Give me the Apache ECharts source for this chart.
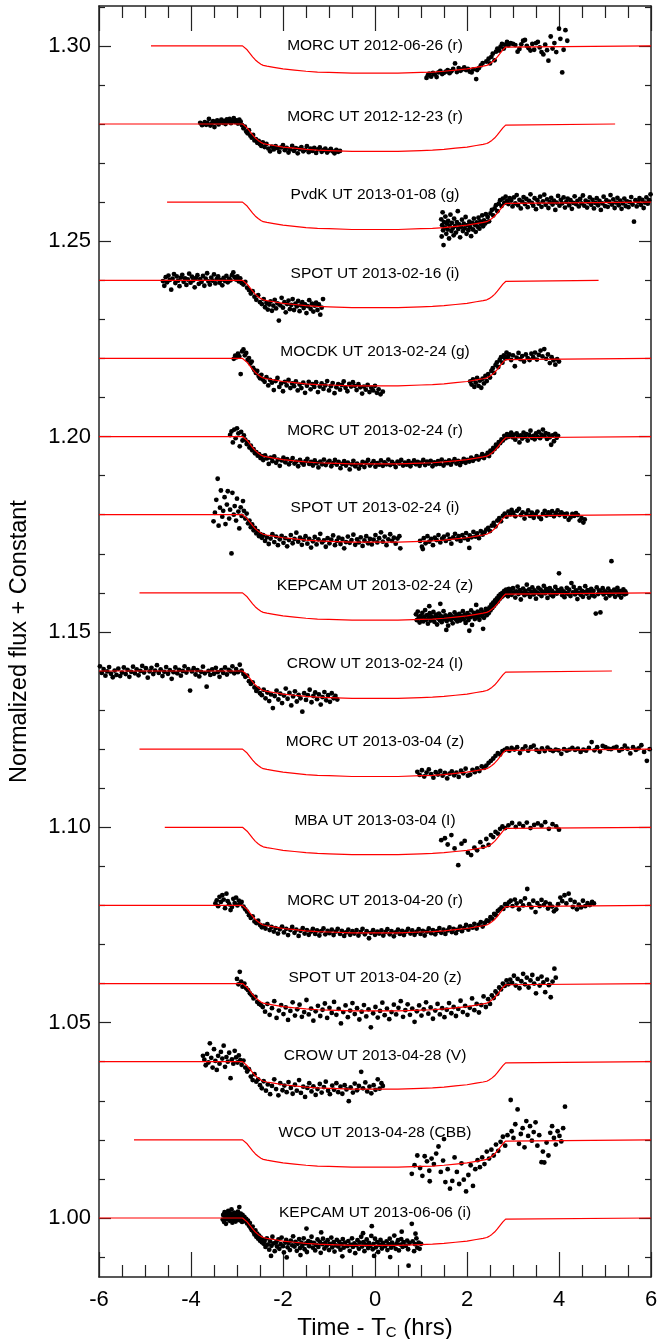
<!DOCTYPE html>
<html><head><meta charset="utf-8">
<script src="https://cdn.jsdelivr.net/npm/echarts@6/dist/echarts.min.js"></script>
<style>html,body{margin:0;padding:0;background:#fff}#chart{width:657px;height:1339px}</style>
</head><body><div id="chart"></div>
<script>
// ---------------- DATA ----------------
const labelTexts = ['MORC UT 2012-06-26 (r)','MORC UT 2012-12-23 (r)','PvdK UT 2013-01-08 (g)','SPOT UT 2013-02-16 (i)','MOCDK UT 2013-02-24 (g)','MORC UT 2013-02-24 (r)','SPOT UT 2013-02-24 (i)','KEPCAM UT 2013-02-24 (z)','CROW UT 2013-02-24 (I)','MORC UT 2013-03-04 (z)','MBA UT 2013-03-04 (I)','MORC UT 2013-04-20 (r)','SPOT UT 2013-04-20 (z)','CROW UT 2013-04-28 (V)','WCO UT 2013-04-28 (CBB)','KEPCAM UT 2013-06-06 (i)'];
const baselines = [1.30,1.28,1.26,1.24,1.22,1.20,1.18,1.16,1.14,1.12,1.10,1.08,1.06,1.04,1.02,1.00];
const modelStart = [-4.87,-6,-4.52,-6,-6,-6,-6,-5.12,-6,-5.12,-4.57,-6,-6,-6,-5.24,-6];
const modelEnd = [6,5.22,6,4.86,6,6,6,6,5.15,6,6,6,6,6,6,6];
const modelT = [-2.88,-2.84,-2.78,-2.72,-2.66,-2.60,-2.54,-2.48,-2.43,-2.35,-2.20,-2.00,-1.75,-1.50,-1.25,-1.00,-0.50,0,0.50,1.00,1.25,1.50,1.75,2.00,2.20,2.35,2.43,2.48,2.54,2.60,2.66,2.72,2.78,2.84,2.88];
const modelDepth = [0,0.0003,0.0010,0.0019,0.0028,0.0036,0.0042,0.0047,0.0050,0.0052,0.0055,0.0059,0.0062,0.0065,0.0067,0.0068,0.0070,0.0070,0.0070,0.0068,0.0067,0.0065,0.0062,0.0059,0.0055,0.0052,0.0050,0.0047,0.0042,0.0036,0.0028,0.0019,0.0010,0.0003,0];
const yMajorTicks = [1.00,1.05,1.10,1.15,1.20,1.25,1.30];
const yMinorTicks = [0.99,1.01,1.02,1.03,1.04,1.06,1.07,1.08,1.09,1.11,1.12,1.13,1.14,1.16,1.17,1.18,1.19,1.21,1.22,1.23,1.24,1.26,1.27,1.28,1.29,1.31];

const morc_20120626 = [[1.12,1.2918],[1.15,1.2925],[1.18,1.2929],[1.22,1.2921],[1.26,1.2931],[1.30,1.2927],[1.34,1.2920],[1.38,1.2932],[1.42,1.2936],[1.46,1.2928],[1.50,1.2931],[1.54,1.2934],[1.58,1.2938],[1.62,1.2930],[1.66,1.2935],[1.70,1.2941],[1.74,1.2955],[1.78,1.2933],[1.82,1.2943],[1.86,1.2936],[1.90,1.2940],[1.94,1.2945],[1.98,1.2938],[2.02,1.2941],[2.06,1.2934],[2.10,1.2932],[2.14,1.2940],[2.20,1.2915],[2.22,1.2938],[2.26,1.2943],[2.30,1.2950],[2.34,1.2956],[2.42,1.2960],[2.47,1.2967],[2.50,1.2955],[2.53,1.2972],[2.56,1.2980],[2.60,1.2963],[2.63,1.2985],[2.66,1.2993],[2.70,1.2988],[2.73,1.2998],[2.76,1.3005],[2.80,1.2993],[2.83,1.3003],[2.87,1.3010],[2.90,1.3001],[2.95,1.3007],[3.00,1.3005],[3.05,1.3002],[3.10,1.2985],[3.14,1.2992],[3.18,1.3004],[3.22,1.3013],[3.26,1.3015],[3.30,1.3000],[3.34,1.2994],[3.38,1.2988],[3.42,1.3005],[3.46,1.2990],[3.50,1.3007],[3.54,1.3010],[3.58,1.2996],[3.62,1.2984],[3.66,1.2978],[3.70,1.3003],[3.74,1.2989],[3.77,1.2962],[3.82,1.3024],[3.86,1.2993],[3.90,1.3007],[3.94,1.2984],[4.00,1.3044],[4.03,1.3018],[4.07,1.2932],[4.10,1.2990],[4.14,1.3040],[4.18,1.3013]];
const morc_20121223 = [[-3.80,1.2803],[-3.76,1.2797],[-3.73,1.2800],[-3.70,1.2805],[-3.67,1.2798],[-3.64,1.2802],[-3.61,1.2813],[-3.58,1.2796],[-3.55,1.2801],[-3.52,1.2807],[-3.49,1.2792],[-3.46,1.2804],[-3.43,1.2809],[-3.40,1.2799],[-3.37,1.2806],[-3.34,1.2811],[-3.31,1.2803],[-3.28,1.2808],[-3.25,1.2800],[-3.22,1.2812],[-3.19,1.2806],[-3.16,1.2813],[-3.13,1.2802],[-3.10,1.2808],[-3.07,1.2815],[-3.04,1.2805],[-3.01,1.2809],[-2.98,1.2801],[-2.95,1.2811],[-2.92,1.2806],[-2.89,1.2797],[-2.86,1.2789],[-2.83,1.2793],[-2.80,1.2781],[-2.77,1.2776],[-2.74,1.2784],[-2.71,1.2770],[-2.68,1.2765],[-2.65,1.2772],[-2.62,1.2758],[-2.59,1.2761],[-2.56,1.2752],[-2.53,1.2757],[-2.50,1.2748],[-2.47,1.2744],[-2.44,1.2753],[-2.40,1.2741],[-2.36,1.2749],[-2.32,1.2737],[-2.28,1.2730],[-2.24,1.2742],[-2.20,1.2735],[-2.16,1.2743],[-2.12,1.2738],[-2.08,1.2729],[-2.04,1.2740],[-2.00,1.2746],[-1.96,1.2733],[-1.92,1.2739],[-1.88,1.2727],[-1.84,1.2735],[-1.80,1.2744],[-1.76,1.2731],[-1.72,1.2738],[-1.68,1.2725],[-1.64,1.2736],[-1.60,1.2741],[-1.56,1.2730],[-1.52,1.2734],[-1.48,1.2743],[-1.44,1.2728],[-1.40,1.2737],[-1.36,1.2731],[-1.32,1.2739],[-1.28,1.2726],[-1.24,1.2735],[-1.20,1.2740],[-1.16,1.2729],[-1.12,1.2733],[-1.08,1.2737],[-1.04,1.2727],[-1.00,1.2732],[-0.96,1.2736],[-0.92,1.2730],[-0.88,1.2725],[-0.84,1.2734],[-0.80,1.2729],[-0.76,1.2731]];
const pvdk_20130108 = [[1.44,1.2556],[1.45,1.2512],[1.46,1.2541],[1.47,1.2574],[1.48,1.2528],[1.49,1.2490],[1.50,1.2549],[1.52,1.2535],[1.53,1.2563],[1.55,1.2519],[1.56,1.2545],[1.58,1.2530],[1.59,1.2552],[1.61,1.2507],[1.62,1.2540],[1.64,1.2568],[1.66,1.2526],[1.67,1.2547],[1.69,1.2533],[1.71,1.2515],[1.72,1.2558],[1.74,1.2539],[1.76,1.2522],[1.78,1.2549],[1.80,1.2577],[1.81,1.2531],[1.83,1.2543],[1.85,1.2510],[1.87,1.2537],[1.89,1.2555],[1.91,1.2526],[1.93,1.2545],[1.95,1.2533],[1.97,1.2562],[1.99,1.2519],[2.01,1.2541],[2.03,1.2528],[2.05,1.2550],[2.07,1.2536],[2.09,1.2513],[2.11,1.2547],[2.13,1.2530],[2.15,1.2558],[2.17,1.2542],[2.19,1.2524],[2.21,1.2548],[2.23,1.2537],[2.25,1.2560],[2.27,1.2532],[2.29,1.2551],[2.31,1.2543],[2.33,1.2566],[2.35,1.2538],[2.37,1.2553],[2.39,1.2545],[2.41,1.2569],[2.43,1.2549],[2.45,1.2562],[2.48,1.2551],[2.51,1.2571],[2.54,1.2580],[2.57,1.2566],[2.60,1.2584],[2.63,1.2592],[2.66,1.2577],[2.69,1.2596],[2.72,1.2605],[2.75,1.2590],[2.78,1.2609],[2.81,1.2598],[2.84,1.2614],[2.87,1.2603],[2.90,1.2595],[2.93,1.2610],[2.96,1.2604],[2.99,1.2589],[3.02,1.2612],[3.05,1.2597],[3.08,1.2618],[3.11,1.2592],[3.14,1.2606],[3.17,1.2584],[3.20,1.2601],[3.23,1.2613],[3.26,1.2595],[3.29,1.2608],[3.32,1.2587],[3.35,1.2603],[3.38,1.2620],[3.41,1.2598],[3.44,1.2591],[3.47,1.2610],[3.50,1.2582],[3.53,1.2605],[3.56,1.2596],[3.59,1.2614],[3.62,1.2588],[3.65,1.2602],[3.68,1.2619],[3.71,1.2593],[3.74,1.2607],[3.77,1.2585],[3.80,1.2600],[3.83,1.2611],[3.86,1.2594],[3.89,1.2604],[3.92,1.2580],[3.95,1.2599],[3.98,1.2616],[4.01,1.2591],[4.04,1.2606],[4.07,1.2597],[4.10,1.2612],[4.13,1.2586],[4.16,1.2601],[4.19,1.2609],[4.22,1.2592],[4.25,1.2605],[4.28,1.2583],[4.31,1.2598],[4.34,1.2615],[4.37,1.2595],[4.40,1.2603],[4.43,1.2589],[4.46,1.2608],[4.49,1.2597],[4.52,1.2617],[4.55,1.2591],[4.58,1.2604],[4.61,1.2586],[4.64,1.2600],[4.67,1.2612],[4.70,1.2593],[4.73,1.2606],[4.76,1.2584],[4.79,1.2598],[4.82,1.2610],[4.85,1.2592],[4.88,1.2603],[4.91,1.2580],[4.94,1.2597],[4.97,1.2614],[5.00,1.2590],[5.03,1.2605],[5.06,1.2588],[5.09,1.2601],[5.12,1.2618],[5.15,1.2594],[5.18,1.2607],[5.21,1.2585],[5.24,1.2599],[5.27,1.2611],[5.30,1.2592],[5.33,1.2604],[5.36,1.2583],[5.39,1.2597],[5.42,1.2609],[5.45,1.2590],[5.48,1.2602],[5.51,1.2587],[5.54,1.2600],[5.57,1.2613],[5.60,1.2594],[5.63,1.2550],[5.66,1.2605],[5.69,1.2589],[5.72,1.2601],[5.75,1.2610],[5.78,1.2593],[5.81,1.2606],[5.84,1.2585],[5.87,1.2599],[5.90,1.2612],[5.93,1.2596],[5.96,1.2605],[5.99,1.2620]];
const spot_20130216 = [[-4.61,1.2398],[-4.58,1.2386],[-4.55,1.2408],[-4.52,1.2395],[-4.49,1.2412],[-4.46,1.2401],[-4.43,1.2376],[-4.40,1.2404],[-4.37,1.2416],[-4.34,1.2393],[-4.31,1.2410],[-4.28,1.2399],[-4.25,1.2385],[-4.22,1.2407],[-4.19,1.2414],[-4.16,1.2396],[-4.13,1.2405],[-4.10,1.2388],[-4.07,1.2402],[-4.04,1.2417],[-4.01,1.2394],[-3.98,1.2409],[-3.95,1.2400],[-3.92,1.2382],[-3.89,1.2406],[-3.86,1.2413],[-3.83,1.2391],[-3.80,1.2403],[-3.77,1.2396],[-3.74,1.2411],[-3.71,1.2386],[-3.68,1.2404],[-3.65,1.2418],[-3.62,1.2397],[-3.59,1.2389],[-3.56,1.2407],[-3.53,1.2399],[-3.50,1.2415],[-3.47,1.2392],[-3.44,1.2403],[-3.41,1.2410],[-3.38,1.2394],[-3.35,1.2401],[-3.32,1.2387],[-3.29,1.2406],[-3.26,1.2398],[-3.23,1.2411],[-3.20,1.2395],[-3.17,1.2404],[-3.14,1.2400],[-3.11,1.2413],[-3.08,1.2420],[-3.05,1.2408],[-3.02,1.2402],[-2.99,1.2410],[-2.96,1.2397],[-2.93,1.2405],[-2.90,1.2393],[-2.86,1.2389],[-2.82,1.2396],[-2.78,1.2381],[-2.74,1.2375],[-2.70,1.2366],[-2.66,1.2372],[-2.62,1.2358],[-2.58,1.2350],[-2.54,1.2362],[-2.50,1.2344],[-2.46,1.2339],[-2.42,1.2352],[-2.39,1.2331],[-2.36,1.2342],[-2.33,1.2325],[-2.30,1.2338],[-2.27,1.2346],[-2.24,1.2322],[-2.21,1.2335],[-2.18,1.2350],[-2.15,1.2328],[-2.12,1.2341],[-2.09,1.2297],[-2.06,1.2336],[-2.03,1.2355],[-2.00,1.2330],[-1.97,1.2344],[-1.94,1.2318],[-1.91,1.2339],[-1.88,1.2348],[-1.85,1.2326],[-1.82,1.2337],[-1.79,1.2352],[-1.76,1.2324],[-1.73,1.2340],[-1.70,1.2333],[-1.67,1.2347],[-1.64,1.2321],[-1.61,1.2336],[-1.58,1.2344],[-1.55,1.2329],[-1.52,1.2338],[-1.49,1.2316],[-1.46,1.2334],[-1.43,1.2349],[-1.40,1.2327],[-1.37,1.2340],[-1.34,1.2320],[-1.31,1.2335],[-1.28,1.2343],[-1.25,1.2324],[-1.22,1.2338],[-1.19,1.2312],[-1.16,1.2330],[-1.13,1.2352]];
const mocdk_20130224 = [[-3.07,1.2199],[-3.04,1.2207],[-3.01,1.2203],[-2.98,1.2212],[-2.95,1.2205],[-2.92,1.2160],[-2.89,1.2218],[-2.86,1.2223],[-2.83,1.2208],[-2.80,1.2214],[-2.77,1.2196],[-2.74,1.2201],[-2.71,1.2187],[-2.68,1.2192],[-2.65,1.2176],[-2.62,1.2170],[-2.59,1.2163],[-2.56,1.2168],[-2.53,1.2155],[-2.50,1.2149],[-2.47,1.2158],[-2.44,1.2146],[-2.40,1.2140],[-2.36,1.2152],[-2.32,1.2131],[-2.28,1.2145],[-2.24,1.2138],[-2.20,1.2119],[-2.16,1.2142],[-2.12,1.2150],[-2.08,1.2127],[-2.04,1.2136],[-2.00,1.2116],[-1.96,1.2140],[-1.92,1.2131],[-1.88,1.2145],[-1.84,1.2124],[-1.80,1.2136],[-1.76,1.2129],[-1.72,1.2141],[-1.68,1.2118],[-1.64,1.2133],[-1.60,1.2124],[-1.56,1.2138],[-1.52,1.2112],[-1.48,1.2130],[-1.44,1.2140],[-1.40,1.2121],[-1.36,1.2134],[-1.32,1.2127],[-1.28,1.2139],[-1.24,1.2114],[-1.20,1.2128],[-1.16,1.2136],[-1.12,1.2122],[-1.08,1.2131],[-1.04,1.2142],[-1.00,1.2118],[-0.96,1.2129],[-0.92,1.2137],[-0.88,1.2111],[-0.84,1.2126],[-0.80,1.2134],[-0.76,1.2120],[-0.72,1.2132],[-0.68,1.2141],[-0.64,1.2125],[-0.60,1.2116],[-0.56,1.2135],[-0.52,1.2128],[-0.48,1.2139],[-0.44,1.2130],[-0.40,1.2119],[-0.36,1.2134],[-0.32,1.2126],[-0.28,1.2110],[-0.24,1.2128],[-0.20,1.2120],[-0.16,1.2132],[-0.12,1.2114],[-0.08,1.2125],[-0.04,1.2118],[0.00,1.2130],[0.04,1.2112],[0.08,1.2121],[0.12,1.2108],[0.17,1.2115],[2.07,1.2141],[2.10,1.2133],[2.13,1.2146],[2.16,1.2127],[2.19,1.2138],[2.22,1.2150],[2.25,1.2130],[2.28,1.2143],[2.31,1.2125],[2.34,1.2148],[2.37,1.2136],[2.40,1.2155],[2.43,1.2142],[2.46,1.2160],[2.50,1.2151],[2.53,1.2168],[2.56,1.2175],[2.59,1.2163],[2.62,1.2183],[2.65,1.2190],[2.68,1.2178],[2.71,1.2196],[2.74,1.2203],[2.77,1.2189],[2.80,1.2208],[2.83,1.2200],[2.86,1.2215],[2.89,1.2204],[2.92,1.2210],[2.96,1.2196],[3.00,1.2208],[3.04,1.2180],[3.08,1.2202],[3.12,1.2214],[3.16,1.2198],[3.20,1.2206],[3.24,1.2192],[3.28,1.2210],[3.32,1.2201],[3.36,1.2196],[3.40,1.2212],[3.44,1.2203],[3.48,1.2215],[3.52,1.2197],[3.56,1.2209],[3.60,1.2220],[3.64,1.2205],[3.68,1.2224],[3.72,1.2199],[3.76,1.2210],[3.80,1.2188],[3.84,1.2203],[3.88,1.2195],[3.92,1.2184],[3.96,1.2198],[4.00,1.2192]];
const morc_20130224 = [[-3.15,1.2004],[-3.12,1.2013],[-3.09,1.1985],[-3.06,1.2018],[-3.03,1.1996],[-3.00,1.2021],[-2.97,1.2008],[-2.94,1.1975],[-2.91,1.2012],[-2.88,1.1990],[-2.85,1.2003],[-2.82,1.1992],[-2.79,1.1981],[-2.76,1.1986],[-2.73,1.1972],[-2.70,1.1977],[-2.67,1.1965],[-2.64,1.1968],[-2.61,1.1957],[-2.58,1.1960],[-2.55,1.1951],[-2.52,1.1955],[-2.49,1.1945],[-2.46,1.1950],[-2.43,1.1940],[-2.39,1.1952],[-2.35,1.1944],[-2.31,1.1930],[-2.27,1.1946],[-2.23,1.1937],[-2.19,1.1949],[-2.15,1.1933],[-2.11,1.1941],[-2.07,1.1925],[-2.03,1.1939],[-1.99,1.1946],[-1.95,1.1934],[-1.91,1.1942],[-1.87,1.1929],[-1.83,1.1938],[-1.79,1.1945],[-1.75,1.1931],[-1.71,1.1936],[-1.67,1.1924],[-1.63,1.1940],[-1.59,1.1933],[-1.55,1.1928],[-1.51,1.1937],[-1.47,1.1943],[-1.43,1.1930],[-1.39,1.1935],[-1.35,1.1926],[-1.31,1.1939],[-1.27,1.1932],[-1.23,1.1921],[-1.19,1.1936],[-1.15,1.1929],[-1.11,1.1941],[-1.07,1.1927],[-1.03,1.1934],[-0.99,1.1938],[-0.95,1.1924],[-0.91,1.1932],[-0.87,1.1940],[-0.83,1.1928],[-0.79,1.1935],[-0.75,1.1919],[-0.71,1.1930],[-0.67,1.1937],[-0.63,1.1926],[-0.59,1.1933],[-0.55,1.1916],[-0.51,1.1929],[-0.47,1.1938],[-0.43,1.1924],[-0.39,1.1931],[-0.35,1.1918],[-0.31,1.1927],[-0.27,1.1935],[-0.23,1.1922],[-0.19,1.1933],[-0.15,1.1940],[-0.11,1.1926],[-0.07,1.1931],[-0.03,1.1937],[0.01,1.1923],[0.05,1.1932],[0.09,1.1928],[0.13,1.1939],[0.17,1.1925],[0.21,1.1934],[0.25,1.1929],[0.29,1.1941],[0.33,1.1927],[0.37,1.1935],[0.41,1.1930],[0.45,1.1922],[0.49,1.1936],[0.53,1.1931],[0.57,1.1940],[0.61,1.1926],[0.65,1.1933],[0.69,1.1928],[0.73,1.1937],[0.77,1.1924],[0.81,1.1932],[0.85,1.1939],[0.89,1.1929],[0.93,1.1935],[0.97,1.1925],[1.01,1.1933],[1.05,1.1940],[1.09,1.1927],[1.13,1.1936],[1.17,1.1931],[1.21,1.1938],[1.25,1.1924],[1.29,1.1934],[1.33,1.1929],[1.37,1.1937],[1.41,1.1930],[1.45,1.1941],[1.49,1.1926],[1.53,1.1935],[1.57,1.1932],[1.61,1.1939],[1.65,1.1928],[1.69,1.1936],[1.73,1.1942],[1.77,1.1931],[1.81,1.1938],[1.85,1.1927],[1.89,1.1935],[1.93,1.1943],[1.97,1.1933],[2.01,1.1940],[2.05,1.1936],[2.09,1.1946],[2.13,1.1938],[2.17,1.1943],[2.21,1.1950],[2.25,1.1941],[2.29,1.1947],[2.33,1.1955],[2.37,1.1945],[2.41,1.1952],[2.45,1.1958],[2.48,1.1950],[2.51,1.1964],[2.54,1.1960],[2.57,1.1971],[2.60,1.1968],[2.63,1.1979],[2.66,1.1975],[2.69,1.1986],[2.72,1.1983],[2.75,1.1993],[2.78,1.1990],[2.81,1.2002],[2.84,1.1996],[2.87,1.2006],[2.90,1.1999],[2.93,1.2004],[2.96,1.2010],[2.99,1.1998],[3.02,1.2005],[3.05,1.1992],[3.08,1.2008],[3.11,1.2001],[3.14,1.1985],[3.17,1.2003],[3.20,1.1995],[3.23,1.2010],[3.26,1.1999],[3.29,1.2006],[3.32,1.1990],[3.35,1.2004],[3.38,1.2015],[3.41,1.1997],[3.44,1.2002],[3.47,1.1993],[3.50,1.2008],[3.53,1.2000],[3.56,1.2012],[3.59,1.1996],[3.62,1.2005],[3.65,1.2018],[3.68,1.2001],[3.71,1.2009],[3.74,1.1994],[3.77,1.2006],[3.80,1.1998],[3.83,1.1979],[3.86,1.2003],[3.89,1.1988],[3.92,1.2007],[3.95,1.1997],[3.98,1.2002]];
const spot_20130224 = [[-3.51,1.1783],[-3.48,1.1805],[-3.45,1.1838],[-3.42,1.1892],[-3.40,1.1772],[-3.37,1.1818],[-3.35,1.1862],[-3.32,1.1795],[-3.30,1.1810],[-3.27,1.1845],[-3.25,1.1776],[-3.22,1.1826],[-3.20,1.1860],[-3.17,1.1790],[-3.15,1.1813],[-3.12,1.1701],[-3.10,1.1856],[-3.07,1.1800],[-3.05,1.1822],[-3.02,1.1785],[-3.00,1.1841],[-2.97,1.1808],[-2.95,1.1765],[-2.92,1.1819],[-2.90,1.1797],[-2.87,1.1835],[-2.85,1.1810],[-2.82,1.1790],[-2.79,1.1803],[-2.76,1.1778],[-2.73,1.1785],[-2.70,1.1768],[-2.67,1.1775],[-2.64,1.1760],[-2.61,1.1766],[-2.58,1.1752],[-2.55,1.1758],[-2.52,1.1745],[-2.49,1.1750],[-2.46,1.1741],[-2.43,1.1748],[-2.39,1.1733],[-2.35,1.1742],[-2.31,1.1725],[-2.27,1.1739],[-2.23,1.1750],[-2.19,1.1730],[-2.15,1.1744],[-2.11,1.1722],[-2.07,1.1737],[-2.03,1.1746],[-1.99,1.1728],[-1.95,1.1740],[-1.91,1.1719],[-1.87,1.1735],[-1.83,1.1748],[-1.79,1.1727],[-1.75,1.1738],[-1.71,1.1754],[-1.67,1.1731],[-1.63,1.1741],[-1.59,1.1723],[-1.55,1.1736],[-1.51,1.1745],[-1.47,1.1726],[-1.43,1.1738],[-1.39,1.1716],[-1.35,1.1732],[-1.31,1.1743],[-1.27,1.1724],[-1.23,1.1737],[-1.19,1.1751],[-1.15,1.1729],[-1.11,1.1734],[-1.07,1.1718],[-1.03,1.1740],[-0.99,1.1727],[-0.95,1.1736],[-0.91,1.1747],[-0.87,1.1722],[-0.83,1.1733],[-0.79,1.1741],[-0.75,1.1725],[-0.71,1.1738],[-0.67,1.1714],[-0.63,1.1730],[-0.59,1.1744],[-0.55,1.1728],[-0.51,1.1735],[-0.47,1.1749],[-0.43,1.1723],[-0.39,1.1737],[-0.35,1.1729],[-0.31,1.1742],[-0.27,1.1720],[-0.23,1.1734],[-0.19,1.1745],[-0.15,1.1727],[-0.11,1.1738],[-0.07,1.1724],[-0.03,1.1736],[0.01,1.1748],[0.05,1.1729],[0.09,1.1740],[0.13,1.1755],[0.17,1.1731],[0.21,1.1744],[0.25,1.1722],[0.29,1.1737],[0.33,1.1750],[0.37,1.1733],[0.41,1.1741],[0.45,1.1726],[0.49,1.1739],[0.53,1.1745],[0.55,1.1714],[0.98,1.1733],[1.02,1.1718],[1.04,1.1712],[1.06,1.1740],[1.10,1.1727],[1.14,1.1745],[1.18,1.1731],[1.22,1.1738],[1.26,1.1722],[1.30,1.1741],[1.34,1.1735],[1.38,1.1748],[1.42,1.1729],[1.46,1.1739],[1.50,1.1744],[1.54,1.1733],[1.58,1.1749],[1.62,1.1738],[1.66,1.1726],[1.70,1.1742],[1.74,1.1751],[1.78,1.1737],[1.82,1.1745],[1.86,1.1733],[1.90,1.1748],[1.94,1.1740],[1.98,1.1753],[2.02,1.1736],[2.05,1.1715],[2.06,1.1747],[2.10,1.1742],[2.14,1.1756],[2.18,1.1744],[2.22,1.1752],[2.26,1.1740],[2.30,1.1758],[2.34,1.1749],[2.38,1.1755],[2.42,1.1762],[2.46,1.1766],[2.50,1.1758],[2.54,1.1772],[2.58,1.1779],[2.62,1.1770],[2.66,1.1785],[2.70,1.1791],[2.74,1.1783],[2.78,1.1797],[2.82,1.1803],[2.86,1.1795],[2.90,1.1808],[2.94,1.1801],[2.97,1.1812],[3.01,1.1805],[3.05,1.1796],[3.09,1.1810],[3.13,1.1815],[3.17,1.1799],[3.21,1.1806],[3.25,1.1790],[3.29,1.1803],[3.33,1.1811],[3.37,1.1797],[3.41,1.1805],[3.45,1.1792],[3.49,1.1801],[3.53,1.1808],[3.57,1.1794],[3.61,1.1789],[3.65,1.1802],[3.69,1.1810],[3.73,1.1798],[3.77,1.1806],[3.81,1.1800],[3.85,1.1809],[3.89,1.1796],[3.93,1.1804],[3.97,1.1811],[4.01,1.1799],[4.05,1.1806],[4.09,1.1802],[4.13,1.1795],[4.17,1.1803],[4.21,1.1787],[4.25,1.1793],[4.29,1.1802],[4.33,1.1797],[4.37,1.1804],[4.41,1.1799],[4.45,1.1785],[4.49,1.1791],[4.53,1.1780],[4.56,1.1788]];
const kepcam_20130224 = [[0.89,1.1545],[0.91,1.1530],[0.93,1.1552],[0.95,1.1538],[0.97,1.1524],[0.99,1.1541],[1.01,1.1533],[1.03,1.1549],[1.05,1.1527],[1.07,1.1539],[1.09,1.1556],[1.11,1.1531],[1.13,1.1543],[1.15,1.1521],[1.17,1.1537],[1.18,1.1566],[1.19,1.1548],[1.21,1.1529],[1.23,1.1540],[1.25,1.1534],[1.27,1.1551],[1.29,1.1526],[1.31,1.1538],[1.33,1.1544],[1.35,1.1519],[1.37,1.1535],[1.39,1.1547],[1.41,1.1530],[1.42,1.1572],[1.43,1.1541],[1.45,1.1525],[1.47,1.1537],[1.49,1.1553],[1.51,1.1532],[1.53,1.1542],[1.55,1.1505],[1.56,1.1528],[1.57,1.1539],[1.59,1.1516],[1.61,1.1534],[1.63,1.1545],[1.65,1.1531],[1.67,1.1540],[1.69,1.1522],[1.71,1.1536],[1.73,1.1550],[1.75,1.1533],[1.77,1.1543],[1.79,1.1527],[1.81,1.1538],[1.83,1.1546],[1.85,1.1529],[1.87,1.1541],[1.89,1.1535],[1.91,1.1553],[1.93,1.1532],[1.95,1.1544],[1.97,1.1523],[1.99,1.1539],[2.01,1.1548],[2.03,1.1530],[2.05,1.1503],[2.06,1.1542],[2.07,1.1537],[2.09,1.1555],[2.11,1.1518],[2.13,1.1540],[2.15,1.1549],[2.17,1.1533],[2.19,1.1545],[2.20,1.1569],[2.21,1.1538],[2.23,1.1552],[2.25,1.1541],[2.27,1.1531],[2.29,1.1547],[2.31,1.1557],[2.33,1.1540],[2.35,1.1508],[2.36,1.1550],[2.37,1.1536],[2.39,1.1548],[2.41,1.1559],[2.43,1.1543],[2.45,1.1556],[2.47,1.1548],[2.49,1.1563],[2.51,1.1555],[2.53,1.1570],[2.55,1.1561],[2.57,1.1575],[2.59,1.1567],[2.61,1.1581],[2.63,1.1573],[2.65,1.1586],[2.67,1.1578],[2.69,1.1592],[2.71,1.1584],[2.73,1.1597],[2.75,1.1589],[2.77,1.1600],[2.79,1.1593],[2.81,1.1605],[2.83,1.1596],[2.85,1.1608],[2.87,1.1600],[2.89,1.1591],[2.91,1.1610],[2.93,1.1603],[2.95,1.1608],[2.97,1.1595],[3.00,1.1612],[3.02,1.1601],[3.05,1.1588],[3.07,1.1604],[3.10,1.1616],[3.12,1.1597],[3.15,1.1607],[3.17,1.1583],[3.20,1.1600],[3.22,1.1611],[3.25,1.1594],[3.27,1.1605],[3.30,1.1621],[3.32,1.1598],[3.35,1.1609],[3.37,1.1590],[3.40,1.1602],[3.42,1.1614],[3.45,1.1596],[3.47,1.1606],[3.50,1.1585],[3.52,1.1601],[3.55,1.1613],[3.57,1.1597],[3.60,1.1608],[3.62,1.1592],[3.65,1.1603],[3.67,1.1618],[3.70,1.1599],[3.72,1.1610],[3.75,1.1587],[3.77,1.1602],[3.80,1.1612],[3.82,1.1595],[3.85,1.1605],[3.87,1.1591],[3.90,1.1600],[3.92,1.1615],[3.95,1.1598],[3.97,1.1607],[4.00,1.1650],[4.02,1.1603],[4.05,1.1611],[4.07,1.1594],[4.10,1.1604],[4.12,1.1589],[4.15,1.1600],[4.17,1.1613],[4.20,1.1597],[4.22,1.1608],[4.25,1.1592],[4.27,1.1625],[4.30,1.1601],[4.32,1.1615],[4.35,1.1596],[4.37,1.1606],[4.40,1.1584],[4.42,1.1600],[4.45,1.1612],[4.47,1.1595],[4.50,1.1605],[4.52,1.1590],[4.55,1.1602],[4.57,1.1617],[4.60,1.1598],[4.62,1.1607],[4.65,1.1588],[4.67,1.1601],[4.70,1.1610],[4.72,1.1594],[4.75,1.1605],[4.77,1.1591],[4.80,1.1547],[4.82,1.1614],[4.85,1.1597],[4.87,1.1606],[4.90,1.1550],[4.92,1.1601],[4.95,1.1612],[4.97,1.1596],[5.00,1.1604],[5.02,1.1586],[5.05,1.1600],[5.07,1.1611],[5.10,1.1593],[5.12,1.1604],[5.14,1.1681],[5.17,1.1598],[5.20,1.1608],[5.22,1.1590],[5.25,1.1602],[5.27,1.1613],[5.30,1.1595],[5.32,1.1605],[5.35,1.1588],[5.37,1.1600],[5.40,1.1609],[5.42,1.1596],[5.44,1.1604],[5.46,1.1598]];
const crow_20130224 = [[-5.98,1.1412],[-5.94,1.1395],[-5.90,1.1405],[-5.86,1.1388],[-5.82,1.1399],[-5.78,1.1410],[-5.74,1.1393],[-5.70,1.1384],[-5.66,1.1401],[-5.62,1.1390],[-5.58,1.1406],[-5.54,1.1387],[-5.50,1.1396],[-5.46,1.1409],[-5.42,1.1392],[-5.38,1.1403],[-5.34,1.1385],[-5.30,1.1398],[-5.26,1.1411],[-5.22,1.1394],[-5.18,1.1404],[-5.14,1.1389],[-5.10,1.1400],[-5.06,1.1413],[-5.02,1.1396],[-4.98,1.1407],[-4.94,1.1383],[-4.90,1.1399],[-4.86,1.1408],[-4.82,1.1392],[-4.78,1.1401],[-4.74,1.1415],[-4.70,1.1395],[-4.66,1.1404],[-4.62,1.1387],[-4.58,1.1398],[-4.54,1.1410],[-4.50,1.1393],[-4.46,1.1402],[-4.42,1.1380],[-4.38,1.1397],[-4.34,1.1409],[-4.30,1.1394],[-4.26,1.1403],[-4.22,1.1388],[-4.18,1.1400],[-4.14,1.1412],[-4.10,1.1396],[-4.06,1.1405],[-4.02,1.1350],[-3.98,1.1399],[-3.94,1.1407],[-3.90,1.1391],[-3.86,1.1402],[-3.82,1.1386],[-3.78,1.1398],[-3.74,1.1411],[-3.70,1.1394],[-3.66,1.1360],[-3.62,1.1400],[-3.58,1.1390],[-3.54,1.1404],[-3.50,1.1393],[-3.46,1.1408],[-3.42,1.1397],[-3.38,1.1385],[-3.34,1.1402],[-3.30,1.1395],[-3.26,1.1409],[-3.22,1.1391],[-3.18,1.1403],[-3.14,1.1399],[-3.10,1.1412],[-3.06,1.1394],[-3.02,1.1405],[-2.98,1.1397],[-2.94,1.1416],[-2.90,1.1401],[-2.86,1.1392],[-2.82,1.1385],[-2.78,1.1388],[-2.74,1.1374],[-2.70,1.1367],[-2.66,1.1371],[-2.62,1.1358],[-2.58,1.1349],[-2.54,1.1355],[-2.50,1.1343],[-2.46,1.1338],[-2.42,1.1352],[-2.38,1.1330],[-2.34,1.1345],[-2.30,1.1323],[-2.26,1.1340],[-2.22,1.1305],[-2.18,1.1336],[-2.14,1.1350],[-2.10,1.1327],[-2.06,1.1342],[-2.02,1.1318],[-1.98,1.1337],[-1.94,1.1355],[-1.90,1.1329],[-1.86,1.1344],[-1.82,1.1312],[-1.78,1.1335],[-1.74,1.1348],[-1.70,1.1322],[-1.66,1.1339],[-1.62,1.1330],[-1.58,1.1296],[-1.54,1.1343],[-1.50,1.1326],[-1.46,1.1338],[-1.42,1.1352],[-1.38,1.1320],[-1.34,1.1336],[-1.30,1.1345],[-1.26,1.1328],[-1.22,1.1340],[-1.18,1.1314],[-1.14,1.1333],[-1.10,1.1346],[-1.06,1.1325],[-1.02,1.1338],[-0.98,1.1321],[-0.94,1.1343],[-0.90,1.1330],[-0.86,1.1336],[-0.82,1.1327]];
const morc_20130304 = [[0.92,1.1142],[0.97,1.1134],[1.02,1.1146],[1.07,1.1130],[1.12,1.1140],[1.17,1.1148],[1.22,1.1136],[1.27,1.1127],[1.32,1.1141],[1.37,1.1135],[1.42,1.1144],[1.47,1.1132],[1.52,1.1139],[1.57,1.1125],[1.62,1.1137],[1.67,1.1143],[1.72,1.1133],[1.77,1.1140],[1.82,1.1129],[1.87,1.1145],[1.92,1.1138],[1.97,1.1150],[2.02,1.1132],[2.07,1.1135],[2.12,1.1147],[2.17,1.1141],[2.22,1.1151],[2.27,1.1144],[2.32,1.1156],[2.37,1.1152],[2.42,1.1158],[2.47,1.1165],[2.52,1.1170],[2.57,1.1176],[2.62,1.1183],[2.67,1.1190],[2.72,1.1186],[2.77,1.1195],[2.82,1.1198],[2.87,1.1202],[2.92,1.1196],[2.97,1.1203],[3.03,1.1199],[3.09,1.1205],[3.15,1.1190],[3.21,1.1200],[3.27,1.1207],[3.33,1.1196],[3.39,1.1205],[3.45,1.1209],[3.51,1.1198],[3.57,1.1193],[3.63,1.1202],[3.69,1.1195],[3.75,1.1204],[3.81,1.1198],[3.87,1.1195],[3.93,1.1199],[3.99,1.1197],[4.05,1.1188],[4.11,1.1200],[4.17,1.1196],[4.23,1.1199],[4.29,1.1203],[4.35,1.1198],[4.41,1.1201],[4.47,1.1193],[4.53,1.1199],[4.59,1.1196],[4.65,1.1203],[4.71,1.1218],[4.77,1.1197],[4.83,1.1205],[4.89,1.1194],[4.95,1.1208],[5.01,1.1205],[5.07,1.1201],[5.13,1.1200],[5.19,1.1203],[5.25,1.1206],[5.31,1.1196],[5.37,1.1200],[5.43,1.1209],[5.49,1.1201],[5.55,1.1189],[5.61,1.1205],[5.67,1.1198],[5.73,1.1202],[5.79,1.1210],[5.85,1.1193],[5.91,1.1170],[5.97,1.1200]];
const mba_20130304 = [[1.44,1.0967],[1.52,1.0972],[1.58,1.0956],[1.66,1.0980],[1.73,1.0946],[1.81,1.0903],[1.88,1.0958],[1.95,1.0965],[2.02,1.0935],[2.09,1.0929],[2.16,1.0948],[2.22,1.0941],[2.29,1.0962],[2.35,1.0950],[2.42,1.0970],[2.47,1.0955],[2.52,1.0980],[2.57,1.0975],[2.62,1.0988],[2.67,1.0984],[2.72,1.0996],[2.77,1.1002],[2.83,1.0998],[2.90,1.1005],[2.98,1.1011],[3.06,1.1001],[3.14,1.1009],[3.22,1.1003],[3.30,1.1012],[3.38,1.0998],[3.46,1.1006],[3.54,1.1010],[3.62,1.1004],[3.70,1.1013],[3.78,1.0996],[3.86,1.1008],[3.94,1.1002],[4.00,1.0994]];
const morc_20130420 = [[-3.47,1.0805],[-3.44,1.0813],[-3.41,1.0798],[-3.38,1.0822],[-3.35,1.0809],[-3.32,1.0826],[-3.29,1.0815],[-3.26,1.0793],[-3.23,1.0830],[-3.20,1.0811],[-3.17,1.0803],[-3.14,1.0788],[-3.11,1.0796],[-3.08,1.0817],[-3.05,1.0806],[-3.02,1.0820],[-2.99,1.0800],[-2.96,1.0812],[-2.93,1.0804],[-2.90,1.0809],[-2.86,1.0797],[-2.82,1.0790],[-2.78,1.0784],[-2.74,1.0775],[-2.70,1.0768],[-2.66,1.0772],[-2.62,1.0759],[-2.58,1.0755],[-2.54,1.0761],[-2.50,1.0750],[-2.46,1.0744],[-2.42,1.0748],[-2.38,1.0741],[-2.34,1.0752],[-2.29,1.0737],[-2.25,1.0745],[-2.20,1.0733],[-2.16,1.0742],[-2.11,1.0728],[-2.07,1.0739],[-2.02,1.0746],[-1.98,1.0731],[-1.93,1.0740],[-1.89,1.0724],[-1.84,1.0737],[-1.80,1.0745],[-1.75,1.0730],[-1.71,1.0738],[-1.66,1.0722],[-1.62,1.0735],[-1.57,1.0742],[-1.53,1.0728],[-1.48,1.0737],[-1.44,1.0725],[-1.39,1.0733],[-1.35,1.0740],[-1.30,1.0727],[-1.26,1.0736],[-1.21,1.0723],[-1.17,1.0734],[-1.12,1.0741],[-1.08,1.0726],[-1.03,1.0735],[-0.99,1.0729],[-0.94,1.0738],[-0.90,1.0724],[-0.85,1.0733],[-0.81,1.0740],[-0.76,1.0727],[-0.72,1.0735],[-0.67,1.0722],[-0.63,1.0731],[-0.58,1.0738],[-0.54,1.0725],[-0.49,1.0734],[-0.45,1.0728],[-0.40,1.0737],[-0.36,1.0723],[-0.31,1.0732],[-0.27,1.0740],[-0.22,1.0726],[-0.18,1.0734],[-0.13,1.0716],[-0.09,1.0730],[-0.04,1.0737],[0.00,1.0725],[0.05,1.0733],[0.09,1.0728],[0.14,1.0736],[0.18,1.0723],[0.23,1.0732],[0.27,1.0739],[0.32,1.0726],[0.36,1.0734],[0.41,1.0721],[0.45,1.0731],[0.50,1.0738],[0.54,1.0727],[0.59,1.0735],[0.63,1.0724],[0.68,1.0733],[0.72,1.0740],[0.77,1.0728],[0.81,1.0736],[0.86,1.0725],[0.90,1.0732],[0.95,1.0739],[0.99,1.0727],[1.04,1.0735],[1.08,1.0723],[1.13,1.0733],[1.17,1.0741],[1.22,1.0729],[1.26,1.0737],[1.31,1.0726],[1.35,1.0734],[1.40,1.0742],[1.44,1.0730],[1.49,1.0738],[1.53,1.0727],[1.58,1.0736],[1.62,1.0744],[1.67,1.0732],[1.71,1.0740],[1.76,1.0729],[1.80,1.0738],[1.85,1.0746],[1.89,1.0734],[1.94,1.0742],[1.98,1.0750],[2.03,1.0738],[2.07,1.0747],[2.12,1.0743],[2.16,1.0753],[2.21,1.0741],[2.25,1.0750],[2.30,1.0757],[2.34,1.0746],[2.39,1.0755],[2.43,1.0762],[2.47,1.0760],[2.51,1.0770],[2.55,1.0766],[2.59,1.0778],[2.63,1.0775],[2.67,1.0786],[2.71,1.0790],[2.75,1.0795],[2.79,1.0791],[2.83,1.0803],[2.87,1.0799],[2.91,1.0808],[2.95,1.0812],[2.99,1.0798],[3.04,1.0815],[3.08,1.0805],[3.13,1.0790],[3.17,1.0810],[3.22,1.0800],[3.26,1.0818],[3.31,1.0842],[3.35,1.0803],[3.40,1.0795],[3.44,1.0812],[3.49,1.0783],[3.53,1.0806],[3.58,1.0798],[3.62,1.0814],[3.67,1.0801],[3.71,1.0808],[3.76,1.0792],[3.80,1.0804],[3.85,1.0797],[3.89,1.0785],[3.94,1.0790],[3.98,1.0803],[4.03,1.0820],[4.07,1.0811],[4.12,1.0826],[4.16,1.0805],[4.21,1.0830],[4.25,1.0814],[4.30,1.0796],[4.34,1.0809],[4.39,1.0790],[4.43,1.0802],[4.48,1.0795],[4.52,1.0812],[4.57,1.0798],[4.62,1.0806],[4.67,1.0801],[4.72,1.0809],[4.76,1.0805]];
const spot_20130420 = [[-3.00,1.0612],[-2.97,1.0598],[-2.94,1.0630],[-2.91,1.0605],[-2.88,1.0592],[-2.84,1.0600],[-2.80,1.0588],[-2.76,1.0583],[-2.72,1.0575],[-2.68,1.0570],[-2.64,1.0562],[-2.60,1.0566],[-2.56,1.0553],[-2.52,1.0548],[-2.48,1.0545],[-2.44,1.0540],[-2.39,1.0528],[-2.34,1.0548],[-2.29,1.0520],[-2.24,1.0537],[-2.19,1.0555],[-2.14,1.0512],[-2.09,1.0531],[-2.04,1.0545],[-1.99,1.0522],[-1.94,1.0539],[-1.89,1.0507],[-1.84,1.0530],[-1.79,1.0552],[-1.74,1.0518],[-1.69,1.0534],[-1.64,1.0546],[-1.59,1.0515],[-1.54,1.0527],[-1.49,1.0558],[-1.44,1.0521],[-1.39,1.0536],[-1.34,1.0505],[-1.29,1.0529],[-1.24,1.0543],[-1.19,1.0517],[-1.14,1.0533],[-1.09,1.0549],[-1.04,1.0512],[-0.99,1.0538],[-0.94,1.0525],[-0.89,1.0553],[-0.84,1.0520],[-0.79,1.0535],[-0.74,1.0498],[-0.69,1.0527],[-0.64,1.0544],[-0.59,1.0514],[-0.54,1.0531],[-0.49,1.0550],[-0.44,1.0522],[-0.39,1.0537],[-0.34,1.0508],[-0.29,1.0528],[-0.24,1.0545],[-0.19,1.0516],[-0.14,1.0534],[-0.09,1.0488],[-0.04,1.0524],[0.01,1.0540],[0.06,1.0513],[0.11,1.0530],[0.16,1.0551],[0.21,1.0519],[0.26,1.0536],[0.31,1.0509],[0.36,1.0527],[0.41,1.0546],[0.46,1.0521],[0.51,1.0538],[0.56,1.0555],[0.61,1.0515],[0.66,1.0532],[0.71,1.0547],[0.76,1.0520],[0.81,1.0536],[0.86,1.0502],[0.91,1.0529],[0.96,1.0544],[1.01,1.0518],[1.06,1.0534],[1.11,1.0552],[1.16,1.0523],[1.21,1.0539],[1.26,1.0510],[1.31,1.0531],[1.36,1.0548],[1.41,1.0521],[1.46,1.0537],[1.51,1.0514],[1.56,1.0533],[1.61,1.0550],[1.66,1.0524],[1.71,1.0540],[1.76,1.0517],[1.81,1.0535],[1.86,1.0556],[1.91,1.0527],[1.96,1.0543],[2.01,1.0520],[2.06,1.0538],[2.11,1.0562],[2.16,1.0532],[2.21,1.0548],[2.26,1.0526],[2.31,1.0545],[2.36,1.0567],[2.41,1.0540],[2.46,1.0560],[2.50,1.0548],[2.54,1.0570],[2.58,1.0563],[2.62,1.0580],[2.66,1.0574],[2.70,1.0590],[2.74,1.0585],[2.78,1.0600],[2.82,1.0594],[2.86,1.0608],[2.90,1.0598],[2.94,1.0610],[2.98,1.0602],[3.02,1.0620],[3.06,1.0595],[3.10,1.0612],[3.14,1.0588],[3.18,1.0606],[3.22,1.0625],[3.26,1.0598],[3.30,1.0615],[3.34,1.0590],[3.38,1.0608],[3.42,1.0622],[3.46,1.0600],[3.50,1.0575],[3.54,1.0612],[3.58,1.0595],[3.62,1.0618],[3.66,1.0603],[3.70,1.0578],[3.74,1.0610],[3.78,1.0596],[3.82,1.0565],[3.86,1.0605],[3.90,1.0638],[3.93,1.0615]];
const crow_20130428 = [[-3.74,1.0415],[-3.71,1.0405],[-3.68,1.0391],[-3.65,1.0420],[-3.62,1.0398],[-3.59,1.0447],[-3.56,1.0410],[-3.53,1.0385],[-3.50,1.0432],[-3.47,1.0402],[-3.44,1.0379],[-3.41,1.0415],[-3.38,1.0395],[-3.35,1.0425],[-3.32,1.0408],[-3.29,1.0441],[-3.26,1.0387],[-3.23,1.0412],[-3.20,1.0400],[-3.17,1.0423],[-3.14,1.0358],[-3.11,1.0406],[-3.08,1.0395],[-3.05,1.0428],[-3.02,1.0411],[-2.99,1.0398],[-2.96,1.0416],[-2.93,1.0404],[-2.90,1.0392],[-2.86,1.0403],[-2.82,1.0385],[-2.78,1.0375],[-2.74,1.0381],[-2.70,1.0362],[-2.66,1.0353],[-2.62,1.0368],[-2.58,1.0349],[-2.54,1.0355],[-2.50,1.0340],[-2.46,1.0332],[-2.42,1.0350],[-2.37,1.0326],[-2.33,1.0342],[-2.28,1.0317],[-2.24,1.0338],[-2.19,1.0355],[-2.15,1.0330],[-2.10,1.0314],[-2.06,1.0345],[-2.01,1.0327],[-1.97,1.0339],[-1.92,1.0322],[-1.88,1.0348],[-1.83,1.0333],[-1.79,1.0318],[-1.74,1.0341],[-1.70,1.0326],[-1.65,1.0353],[-1.61,1.0320],[-1.56,1.0336],[-1.52,1.0310],[-1.47,1.0333],[-1.43,1.0345],[-1.38,1.0324],[-1.34,1.0337],[-1.29,1.0315],[-1.25,1.0330],[-1.20,1.0343],[-1.16,1.0321],[-1.11,1.0335],[-1.07,1.0349],[-1.02,1.0326],[-0.98,1.0317],[-0.93,1.0339],[-0.89,1.0328],[-0.84,1.0345],[-0.80,1.0322],[-0.75,1.0336],[-0.71,1.0318],[-0.66,1.0340],[-0.62,1.0329],[-0.57,1.0299],[-0.53,1.0334],[-0.48,1.0321],[-0.44,1.0344],[-0.39,1.0327],[-0.35,1.0338],[-0.30,1.0374],[-0.26,1.0332],[-0.21,1.0347],[-0.17,1.0324],[-0.12,1.0336],[-0.08,1.0319],[-0.03,1.0340],[0.01,1.0328],[0.06,1.0355],[0.10,1.0331],[0.14,1.0345],[0.17,1.0338]];
const wco_20130428 = [[0.80,1.0113],[0.86,1.0135],[0.92,1.0160],[0.98,1.0128],[1.03,1.0108],[1.08,1.0158],[1.13,1.0145],[1.18,1.0121],[1.19,1.0094],[1.23,1.0152],[1.28,1.0138],[1.33,1.0165],[1.38,1.0183],[1.43,1.0118],[1.48,1.0147],[1.50,1.0202],[1.53,1.0092],[1.58,1.0125],[1.63,1.0075],[1.68,1.0095],[1.73,1.0155],[1.78,1.0118],[1.83,1.0087],[1.88,1.0140],[1.93,1.0098],[1.98,1.0068],[2.03,1.0110],[2.08,1.0135],[2.13,1.0082],[2.18,1.0125],[2.23,1.0148],[2.28,1.0130],[2.33,1.0155],[2.38,1.0138],[2.43,1.0170],[2.48,1.0152],[2.53,1.0175],[2.58,1.0160],[2.63,1.0188],[2.68,1.0172],[2.73,1.0195],[2.78,1.0208],[2.83,1.0185],[2.88,1.0212],[2.95,1.0302],[2.97,1.0222],[3.01,1.0205],[3.05,1.0240],[3.10,1.0278],[3.13,1.0190],[3.17,1.0215],[3.21,1.0230],[3.25,1.0181],[3.29,1.0248],[3.33,1.0210],[3.37,1.0235],[3.41,1.0198],[3.45,1.0220],[3.49,1.0245],[3.53,1.0185],[3.57,1.0212],[3.62,1.0143],[3.65,1.0170],[3.68,1.0142],[3.73,1.0193],[3.77,1.0160],[3.81,1.0218],[3.85,1.0235],[3.89,1.0205],[3.93,1.0188],[3.97,1.0222],[4.01,1.0210],[4.05,1.0196],[4.09,1.0230],[4.13,1.0285]];
const kepcam_20130606 = [[-3.31,0.9996],[-3.30,1.0008],[-3.28,0.9990],[-3.27,1.0015],[-3.25,1.0002],[-3.24,0.9985],[-3.22,1.0010],[-3.21,0.9997],[-3.19,1.0018],[-3.18,1.0005],[-3.16,0.9993],[-3.15,1.0012],[-3.13,1.0000],[-3.12,1.0022],[-3.10,0.9988],[-3.09,1.0007],[-3.07,0.9995],[-3.06,1.0014],[-3.04,1.0003],[-3.03,0.9991],[-3.01,1.0009],[-3.00,0.9998],[-2.98,1.0016],[-2.97,1.0004],[-2.95,1.0028],[-2.94,0.9994],[-2.92,1.0011],[-2.91,1.0001],[-2.89,0.9990],[-2.88,1.0008],[-2.86,0.9997],[-2.84,1.0003],[-2.82,0.9992],[-2.80,0.9998],[-2.78,0.9986],[-2.76,0.9993],[-2.74,0.9980],[-2.72,0.9987],[-2.70,0.9974],[-2.68,0.9969],[-2.66,0.9978],[-2.64,0.9964],[-2.62,0.9958],[-2.60,0.9968],[-2.58,0.9952],[-2.56,0.9960],[-2.54,0.9947],[-2.52,0.9955],[-2.50,0.9942],[-2.48,0.9950],[-2.46,0.9938],[-2.44,0.9945],[-2.42,0.9934],[-2.40,0.9941],[-2.38,0.9926],[-2.35,0.9948],[-2.33,0.9932],[-2.30,0.9919],[-2.28,0.9940],[-2.26,0.9903],[-2.25,0.9929],[-2.23,0.9952],[-2.20,0.9935],[-2.18,0.9915],[-2.15,0.9938],[-2.13,0.9927],[-2.10,0.9945],[-2.08,0.9921],[-2.05,0.9933],[-2.03,0.9950],[-2.00,0.9928],[-1.98,0.9912],[-1.95,0.9937],[-1.93,0.9944],[-1.92,0.9899],[-1.90,0.9925],[-1.88,0.9936],[-1.85,0.9918],[-1.83,0.9942],[-1.80,0.9930],[-1.78,0.9953],[-1.75,0.9927],[-1.73,0.9939],[-1.70,0.9916],[-1.68,0.9934],[-1.65,0.9946],[-1.63,0.9923],[-1.62,0.9905],[-1.60,0.9937],[-1.58,0.9929],[-1.55,0.9948],[-1.53,0.9920],[-1.50,0.9935],[-1.49,0.9973],[-1.48,0.9913],[-1.45,0.9941],[-1.43,0.9928],[-1.40,0.9938],[-1.38,0.9952],[-1.35,0.9924],[-1.33,0.9936],[-1.30,0.9917],[-1.28,0.9931],[-1.25,0.9945],[-1.23,0.9926],[-1.20,0.9939],[-1.18,0.9911],[-1.17,0.9963],[-1.15,0.9933],[-1.13,0.9947],[-1.10,0.9922],[-1.08,0.9936],[-1.05,0.9929],[-1.03,0.9943],[-1.00,0.9918],[-0.98,0.9934],[-0.95,0.9950],[-0.93,0.9925],[-0.90,0.9938],[-0.88,0.9914],[-0.85,0.9930],[-0.83,0.9944],[-0.80,0.9927],[-0.78,0.9939],[-0.75,0.9919],[-0.73,0.9933],[-0.71,0.9902],[-0.70,0.9946],[-0.68,0.9924],[-0.65,0.9937],[-0.60,0.9928],[-0.58,0.9941],[-0.55,0.9916],[-0.53,0.9932],[-0.50,0.9948],[-0.48,0.9926],[-0.45,0.9935],[-0.43,0.9910],[-0.40,0.9930],[-0.38,0.9943],[-0.35,0.9921],[-0.33,0.9937],[-0.30,0.9952],[-0.28,0.9927],[-0.26,0.9961],[-0.25,0.9938],[-0.23,0.9915],[-0.20,0.9932],[-0.18,0.9945],[-0.15,0.9923],[-0.13,0.9936],[-0.10,0.9929],[-0.08,0.9954],[-0.07,0.9979],[-0.05,0.9920],[-0.03,0.9934],[-0.02,0.9903],[0.00,0.9947],[0.02,0.9925],[0.05,0.9938],[0.07,0.9913],[0.10,0.9931],[0.12,0.9944],[0.15,0.9922],[0.17,0.9936],[0.22,0.9928],[0.25,0.9940],[0.27,0.9918],[0.30,0.9933],[0.32,0.9947],[0.33,0.9900],[0.35,0.9924],[0.37,0.9937],[0.40,0.9930],[0.42,0.9955],[0.45,0.9921],[0.47,0.9935],[0.50,0.9943],[0.52,0.9917],[0.55,0.9932],[0.57,0.9946],[0.58,0.9965],[0.60,0.9926],[0.62,0.9938],[0.67,0.9929],[0.70,0.9942],[0.72,0.9920],[0.73,0.9878],[0.75,0.9936],[0.80,0.9985],[0.82,0.9940],[0.85,0.9915],[0.87,0.9933],[0.88,0.9960],[0.90,0.9948],[0.92,0.9924],[0.95,0.9937],[0.97,0.9921],[1.00,0.9934]];

const lightCurves = [morc_20120626, morc_20121223, pvdk_20130108, spot_20130216, mocdk_20130224, morc_20130224, spot_20130224, kepcam_20130224, crow_20130224, morc_20130304, mba_20130304, morc_20130420, spot_20130420, crow_20130428, wco_20130428, kepcam_20130606];

// ---------------- STYLE ----------------
const FONT = "'Liberation Sans', Arial, Helvetica, sans-serif";
const AXIS_COLOR = '#222';
const labelOffsetPx = [0,-7,-7,-7,-7,-6,-7,-7,-7,-7,-7,-5,-6,-6,-7,-5];
const yMin = 0.9849, yMax = 1.3102;

const chart = echarts.init(document.getElementById('chart'), null, {renderer: 'canvas'});

const axisLineStyle = {show: true, onZero: false, lineStyle: {color: AXIS_COLOR, width: 1.5}};
const hiddenLine = {show: false, onZero: false};
const tickLine = {color: AXIS_COLOR, width: 1.2};

const xBase = {
  type: 'value', min: -6, max: 6, interval: 2, gridIndex: 0,
  axisLine: axisLineStyle,
  axisTick: {show: true, inside: true, length: 25, lineStyle: tickLine},
  minorTick: {show: true, splitNumber: 4, length: 12, lineStyle: tickLine},
  splitLine: {show: false}, minorSplitLine: {show: false}
};
const yBase = {
  type: 'value', min: yMin, max: yMax, gridIndex: 0,
  splitLine: {show: false}
};

const series = [];
lightCurves.forEach(d => series.push({
  type: 'scatter', data: d, symbol: 'circle', symbolSize: 4.8,
  itemStyle: {color: '#000', opacity: 1}, z: 2, silent: true, xAxisIndex: 0, yAxisIndex: 0
}));
baselines.forEach((b, i) => series.push({
  type: 'line', xAxisIndex: 0, yAxisIndex: 0,
  data: [[modelStart[i], b]].concat(modelT.map((t, j) => [t, +(b - modelDepth[j]).toFixed(5)])).concat([[modelEnd[i], b]]),
  showSymbol: false, symbol: 'none', smooth: false,
  lineStyle: {color: '#ff0000', width: 1.2}, z: 3, silent: true
}));
series.push({
  type: 'scatter', xAxisIndex: 0, yAxisIndex: 0, z: 4, silent: true,
  symbolSize: 0, itemStyle: {color: '#000', opacity: 1},
  data: labelTexts.map((txt, i) => ({value: [0, baselines[i]], name: txt, label: {offset: [0, labelOffsetPx[i]]}})),
  label: {show: true, position: 'inside', formatter: '{b}', color: '#000', opacity: 1, fontSize: 15.5, fontFamily: FONT, textBorderWidth: 0, textBorderColor: 'transparent', textShadowBlur: 0}
});

chart.setOption({
  animation: false,
  backgroundColor: '#fff',
  grid: {left: 99, right: 6, top: 6, bottom: 62, containLabel: false, outerBoundsMode: 'none'},
  xAxis: [
    Object.assign({}, xBase, {
      position: 'bottom',
      axisLabel: {show: true, fontSize: 22, color: '#000', fontFamily: FONT, margin: 12},
      name: '{a|Time - T}{s|C}{a| (hrs)}', nameLocation: 'middle', nameGap: 33,
      nameTextStyle: {color: '#000', fontSize: 24, fontFamily: FONT,
        rich: {a: {fontSize: 24, color: '#000', fontFamily: FONT}, s: {fontSize: 15, color: '#000', fontFamily: FONT, verticalAlign: 'bottom'}}}
    }),
    Object.assign({}, xBase, {position: 'top', axisLabel: {show: false}})
  ],
  yAxis: [
    Object.assign({}, yBase, {
      position: 'left', axisLine: axisLineStyle,
      axisTick: {show: true, inside: true, length: 12, lineStyle: tickLine, customValues: yMajorTicks},
      axisLabel: {show: true, customValues: yMajorTicks, formatter: v => v.toFixed(2), fontSize: 22, color: '#000', fontFamily: FONT, margin: 8},
      name: 'Normalized flux + Constant', nameLocation: 'middle', nameGap: 67, nameRotate: 90,
      nameTextStyle: {color: '#000', fontSize: 23.5, fontFamily: FONT}
    }),
    Object.assign({}, yBase, {
      position: 'left', axisLine: hiddenLine,
      axisTick: {show: true, inside: true, length: 6, lineStyle: tickLine, customValues: yMinorTicks},
      axisLabel: {show: false}
    }),
    Object.assign({}, yBase, {
      position: 'right', axisLine: axisLineStyle,
      axisTick: {show: true, inside: true, length: 12, lineStyle: tickLine, customValues: yMajorTicks},
      axisLabel: {show: false}
    }),
    Object.assign({}, yBase, {
      position: 'right', axisLine: hiddenLine,
      axisTick: {show: true, inside: true, length: 6, lineStyle: tickLine, customValues: yMinorTicks},
      axisLabel: {show: false}
    })
  ],
  series: series
});
</script></body></html>
